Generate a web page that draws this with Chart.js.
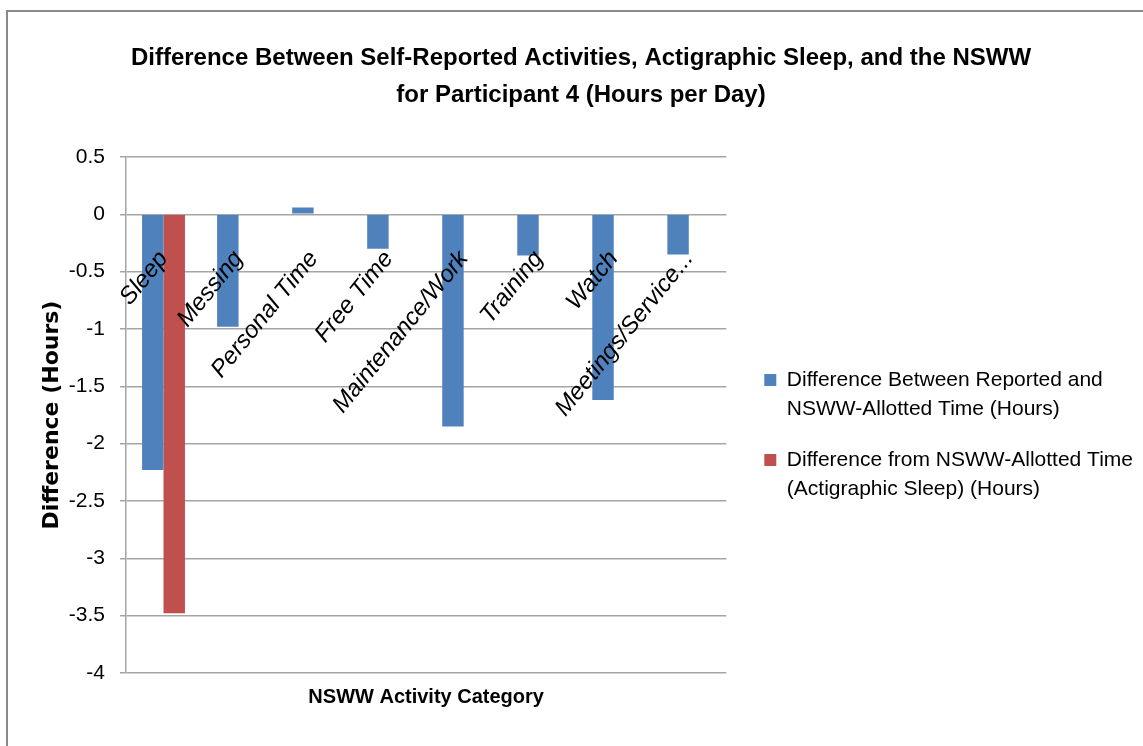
<!DOCTYPE html>
<html><head><meta charset="utf-8">
<script src="https://cdn.jsdelivr.net/npm/chart.js@4.4.1/dist/chart.umd.min.js"></script>
<style>
html,body{margin:0;padding:0;background:#fff;overflow:hidden;width:1143px;height:746px;}
#frame{position:absolute;left:6px;top:10px;width:1146px;height:740px;border-left:2px solid #8a8a8a;border-top:2px solid #8a8a8a;}
canvas{display:block;}
</style></head><body>
<div id="frame"><canvas id="c" width="1146" height="734"></canvas></div>
<script>
const titleLines = ['Difference Between Self-Reported Activities, Actigraphic Sleep, and the NSWW', 'for Participant 4 (Hours per Day)'];
const categories = ['Sleep', 'Messing', 'Personal Time', 'Free Time', 'Maintenance/Work', 'Training', 'Watch', 'Meetings/Service...'];
const reportedLabel = ['Difference Between Reported and', 'NSWW-Allotted Time (Hours)'];
const reportedDiff = [-2.23, -0.98, 0.06, -0.30, -1.85, -0.36, -1.62, -0.35];
const actigraphLabel = ['Difference from NSWW-Allotted Time', '(Actigraphic Sleep) (Hours)'];
const actigraphDiff = [-3.48, null, null, null, null, null, null, null];
const yTicks = [0.5, 0, -0.5, -1, -1.5, -2, -2.5, -3, -3.5, -4];
const yTitle = 'Difference (Hours)';
const xTitle = 'NSWW Activity Category';

const SANS = '"Liberation Sans", Arial, sans-serif';
const GRID = '#a5a5a5';

new Chart(document.getElementById('c'), {
  type: 'bar',
  data: {
    labels: categories,
    datasets: [
      { label: reportedLabel, data: reportedDiff, backgroundColor: '#4F81BD', borderWidth: 0, xAxisID: 'x', yAxisID: 'y' },
      { label: actigraphLabel, data: actigraphDiff, backgroundColor: '#C0504D', borderWidth: 0, xAxisID: 'x', yAxisID: 'y' }
    ]
  },
  options: {
    responsive: false,
    animation: false,
    events: [],
    categoryPercentage: 2 / 3.5,
    barPercentage: 1,
    layout: { padding: { left: 11, right: 11, top: 0, bottom: 0 } },
    plugins: {
      title: {
        display: true,
        text: titleLines,
        color: '#000',
        font: { family: SANS, size: 24, weight: 'bold', lineHeight: 37 / 24 },
        padding: { top: 28, bottom: 43 }
      },
      legend: {
        position: 'right',
        fullSize: false,
        maxWidth: 600,
        title: { display: true, text: ' ', font: { size: 13, lineHeight: 1 }, padding: { top: 34, bottom: 0 } },
        labels: {
          color: '#000',
          boxWidth: 12,
          boxHeight: 12,
          padding: 22,
          font: { family: SANS, size: 21, lineHeight: 29 / 21 }
        }
      },
      tooltip: { enabled: false }
    },
    scales: {
      x: {
        type: 'category',
        position: { y: 0 },
        offset: true,
        grid: { display: false, drawTicks: false },
        border: { display: false },
        ticks: {
          z: 1,
          autoSkip: false,
          minRotation: 51,
          maxRotation: 51,
          padding: 31,
          color: '#000',
          font: { family: SANS, size: 24, style: 'italic' }
        }
      },
      x2: {
        type: 'category',
        position: 'bottom',
        grid: { display: false, drawTicks: false },
        border: { display: false },
        ticks: { display: false },
        title: {
          display: true,
          text: xTitle,
          color: '#000',
          font: { family: SANS, size: 20, weight: 'bold', lineHeight: 1.2 },
          padding: { top: 0, bottom: 37 }
        },
        afterFit: (s) => { s.height = 73; }
      },
      y: {
        type: 'linear',
        position: 'left',
        min: -4,
        max: 0.5,
        afterBuildTicks: (s) => { s.ticks = yTicks.map(v => ({ value: v })); },
        grid: { color: GRID, lineWidth: 1.5, drawTicks: true, tickLength: 6, tickColor: GRID },
        border: { display: true, color: GRID, width: 1.5 },
        ticks: {
          padding: 15,
          color: '#000',
          font: { family: SANS, size: 21 },
          callback: (v) => String(v)
        },
        title: {
          display: true,
          text: yTitle,
          color: '#000',
          font: { family: '"DejaVu Sans", sans-serif', size: 22, weight: 'bold', lineHeight: 1.2 },
          padding: { top: 20, bottom: 0 }
        },
        afterFit: (s) => { s.width = 107; }
      },
      ySpacer: {
        type: 'linear',
        position: 'right',
        display: true,
        grid: { display: false, drawTicks: false },
        border: { display: false },
        ticks: { display: false },
        afterFit: (s) => { s.width = 16; }
      }
    }
  }
});
</script>
</body></html>
